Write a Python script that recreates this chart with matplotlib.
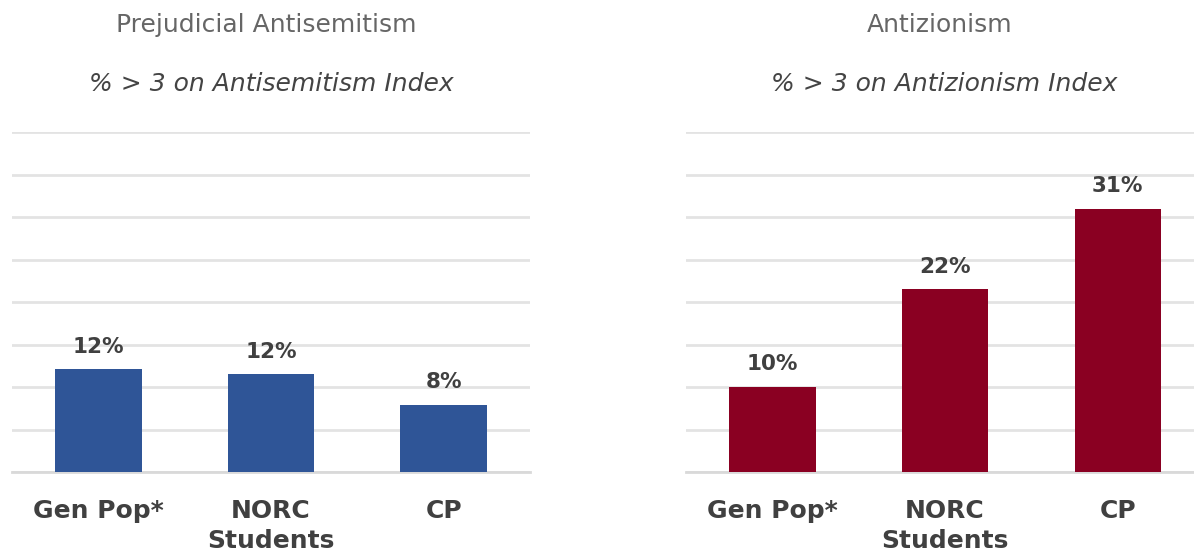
import matplotlib.pyplot as plt

plt.rcParams['font.family'] = ['DejaVu Sans']

categories = ["Gen Pop*", "NORC\nStudents", "CP"]
antisemitism = [12.1, 11.5, 7.9]
antizionism = [10.0, 21.5, 31.0]
antisemitism_labels = ["12%", "12%", "8%"]
antizionism_labels = ["10%", "22%", "31%"]

titles = ["Prejudicial Antisemitism", "Antizionism"]
subtitles = ["% > 3 on Antisemitism Index", "% > 3 on Antizionism Index"]
colors = ["#2F5597", "#8A0022"]

fig = plt.figure(figsize=(11.94, 5.52), dpi=100)
ax_left = fig.add_axes([12 / 1194, 1 - 472 / 552, 518 / 1194, 340 / 552])
ax_right = fig.add_axes([686 / 1194, 1 - 472 / 552, 518 / 1194, 340 / 552])

panels = [
    (ax_left, antisemitism, antisemitism_labels),
    (ax_right, antizionism, antizionism_labels),
]

for i, (ax, values, labels) in enumerate(panels):
    x = range(len(categories))
    ax.bar(x, values, width=0.5, color=colors[i], zorder=3)
    for xi, v, lab in zip(x, values, labels):
        ax.annotate(lab, (xi, v), xytext=(0, 9), textcoords="offset points",
                    ha="center", va="bottom", fontsize=15.5, fontweight="bold",
                    color="#404040")
    ax.set_xlim(-0.5, 2.5)
    ax.set_ylim(0, 40)
    ax.set_yticks(range(0, 41, 5))
    ax.yaxis.grid(True, color="#e3e3e3", linewidth=2)
    ax.set_axisbelow(True)
    ax.tick_params(axis="y", left=False, labelleft=False)
    ax.tick_params(axis="x", bottom=False, pad=16)
    ax.set_xticks(list(x))
    ax.set_xticklabels(categories, fontsize=18, fontweight="bold",
                       color="#404040", linespacing=1.3, va="top")
    for s in ["top", "right", "left"]:
        ax.spines[s].set_visible(False)
    ax.spines["bottom"].set_color("#d9d9d9")
    ax.spines["bottom"].set_linewidth(2)

fig.text(266 / 1194, 1 - 25 / 552, titles[0], ha="center", va="center",
         fontsize=18, color="#666666")
fig.text(940 / 1194, 1 - 25 / 552, titles[1], ha="center", va="center",
         fontsize=18, color="#666666")
fig.text(271 / 1194, 1 - 84 / 552, subtitles[0], ha="center", va="center",
         fontsize=18, style="italic", color="#444444")
fig.text(944 / 1194, 1 - 84 / 552, subtitles[1], ha="center", va="center",
         fontsize=18, style="italic", color="#444444")

fig.savefig("out.png", dpi=100)
